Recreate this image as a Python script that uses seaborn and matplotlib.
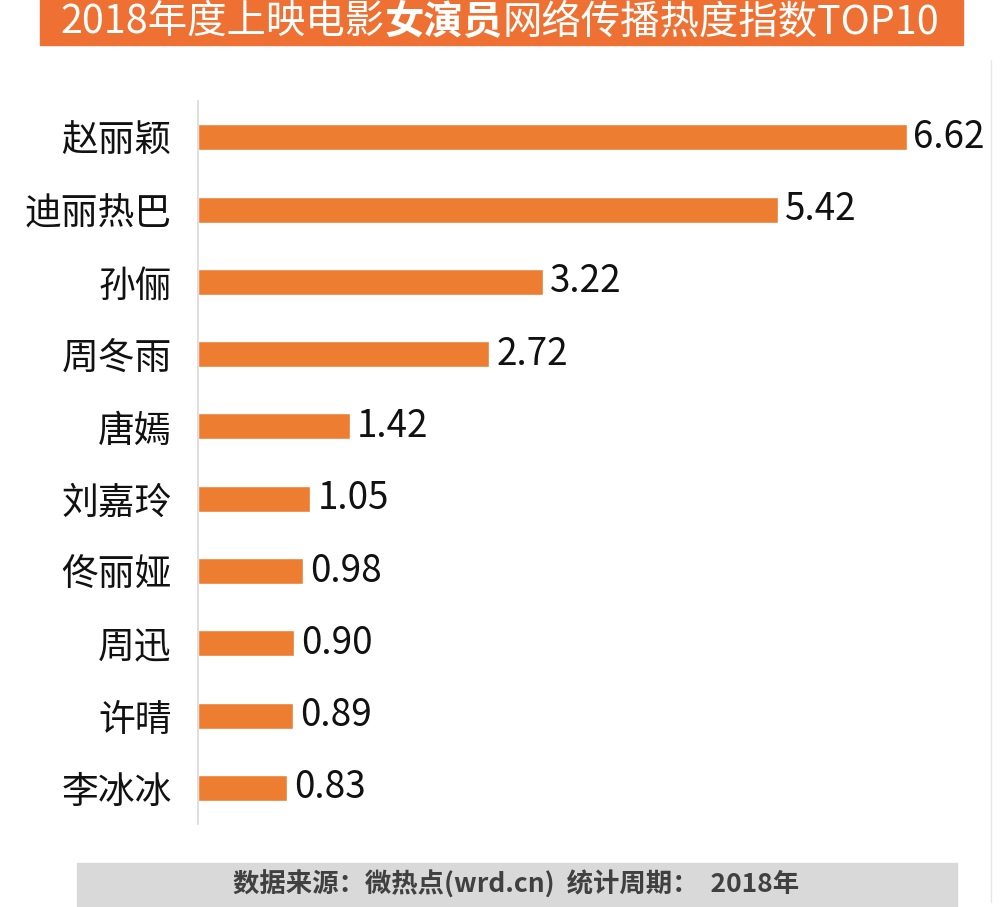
import matplotlib
matplotlib.use("Agg")
import matplotlib.pyplot as plt
import seaborn as sns
import pandas as pd
from matplotlib.patches import Rectangle
from matplotlib.lines import Line2D

# Data
actresses = ["赵丽颖", "迪丽热巴", "孙俪", "周冬雨", "唐嫣", "刘嘉玲", "佟丽娅", "周迅", "许晴", "李冰冰"]
heat_index = [6.62, 5.42, 3.22, 2.72, 1.42, 1.05, 0.98, 0.90, 0.89, 0.83]
title_parts = ["2018年度上映电影", "女演员", "网络传播热度指数TOP10"]
source_text = "数据来源：微热点(wrd.cn)  统计周期：  2018年"

df = pd.DataFrame({"name": actresses, "value": heat_index})

sns.set_theme(style="white")
plt.rcParams["font.family"] = ["Noto Sans CJK SC", "DejaVu Sans"]

fig = plt.figure(figsize=(10, 9.07), dpi=100)
ax = fig.add_axes([0.198, 0.0915, 0.792, 0.797])

sns.barplot(data=df, x="value", y="name", color="#ED7D31", width=0.36,
            saturation=1, ax=ax)

ax.set_xlim(0, 7.4)
ax.set_xlabel("")
ax.set_ylabel("")
ax.set_xticks([])
for side in ["top", "right", "bottom"]:
    ax.spines[side].set_visible(False)
ax.spines["left"].set_color("#D9D9D9")
ax.spines["left"].set_linewidth(1.2)
ax.tick_params(axis="y", length=0, pad=19, labelsize=26.5, labelcolor="#111111")
for lbl in ax.get_yticklabels():
    lbl.set_fontweight("medium")

ax.bar_label(ax.containers[0], labels=[f"{v:.2f}" for v in heat_index],
             padding=5, fontsize=26.5, color="#111111", fontweight="medium")

# Title banner
ty = 1 - 22 / 907
fig.patches.append(Rectangle((0.040, 1 - 45 / 907), 0.923, 45 / 907,
                             transform=fig.transFigure, color="#EE7133", zorder=0))
x = 0.060
for i, part in enumerate(title_parts):
    txt = fig.text(x, ty, part, color="white", fontsize=28.4, va="center", ha="left",
                   fontweight="bold" if i == 1 else "normal")
    fig.canvas.draw()
    x = txt.get_window_extent().x1 / fig.bbox.width

# Source footer
fig.patches.append(Rectangle((0.077, 0), 0.880, 44 / 907,
                             transform=fig.transFigure, color="#D9D9D9", zorder=0))
fig.text(0.516, 22 / 907, source_text, color="#404040", fontsize=19,
         fontweight="bold", ha="center", va="center")

# faint frame line
fig.lines.append(Line2D([0.991, 0.991], [5 / 907, 1 - 60 / 907], transform=fig.transFigure,
                        color="#E6E6E6", linewidth=1))

fig.savefig("out.png", dpi=100)
